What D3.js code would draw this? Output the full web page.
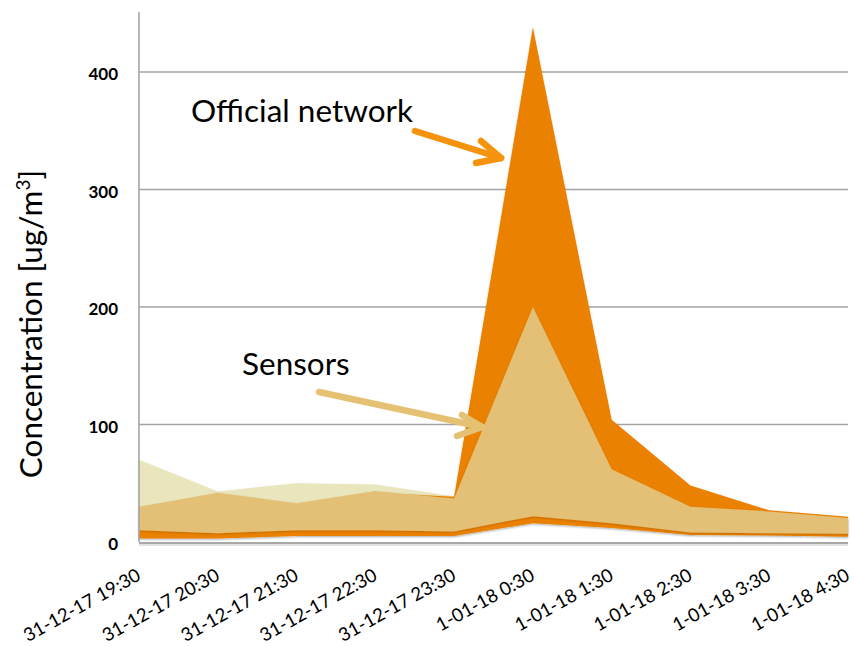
<!DOCTYPE html>
<html>
<head>
<meta charset="utf-8">
<script src="https://cdn.jsdelivr.net/npm/d3@7"></script>
<style>
  body { margin: 0; background: #fff; }
  svg { display: block; }
</style>
</head>
<body>
<div id="chart"></div>
<script>
// hourly timestamps on the category axis
const times = ['31-12-17 19:30', '31-12-17 20:30', '31-12-17 21:30', '31-12-17 22:30', '31-12-17 23:30',
    '1-01-18 0:30', '1-01-18 1:30', '1-01-18 2:30', '1-01-18 3:30', '1-01-18 4:30']

// sensors: upper envelope (pale), band (tan)
const sensorMax = [70, 43, 50, 49, 39, 180, 55, 27, 24, 19]
const sensorHigh = [30, 42, 33, 43.5, 37, 200, 62, 30, 26, 20.5]
const sensorLow = [10, 7.5, 10, 10, 9, 22, 16, 8, 7.5, 7]

// official network band (orange)
const officialHigh = [28, 40, 31, 42, 38.5, 438, 104, 48, 27, 21.5]
const officialLow = [3, 3, 5, 5, 5, 16, 12, 6, 5.5, 4.5]

const yTicks = [0, 100, 200, 300, 400]

const width = 854
const height = 647
const margin = {top: 12, right: 6, bottom: 105, left: 139}
const innerW = width - margin.left - margin.right
const innerH = height - margin.top - margin.bottom

const svg = d3.select('#chart')
    .append('svg')
    .attr('width', width)
    .attr('height', height)

const plot = svg.append('g')
    .attr('transform', `translate(${margin.left},${margin.top})`)

const x = d3.scalePoint()
    .domain(times)
    .range([0, innerW])

const y = d3.scaleLinear()
    .domain([0, 451])
    .range([innerH, 0])

// gridlines
plot.append('g')
    .attr('class', 'grid')
    .selectAll('line')
    .data(yTicks.filter(d => d > 0))
    .join('line')
    .attr('x1', 0)
    .attr('x2', innerW)
    .attr('y1', d => y(d))
    .attr('y2', d => y(d))
    .attr('stroke', '#a3a3a3')
    .attr('stroke-width', 1.5)

const rows = times.map((t, i) => ({
    t,
    sMax: sensorMax[i],
    sHigh: sensorHigh[i],
    sLow: sensorLow[i],
    oHigh: officialHigh[i],
    oLow: officialLow[i]
}))

const area = (lo, hi) => d3.area()
    .x(d => x(d.t))
    .y0(d => y(lo(d)))
    .y1(d => y(hi(d)))

// soft edge like the original
const defs = svg.append('defs')
const shadow = defs.append('filter')
    .attr('id', 'soft')
    .attr('x', '-5%').attr('y', '-5%')
    .attr('width', '110%').attr('height', '110%')
shadow.append('feDropShadow')
    .attr('dx', 0).attr('dy', 1)
    .attr('stdDeviation', 1)
    .attr('flood-color', '#000')
    .attr('flood-opacity', 0.18)

const layers = [
    {key: 'pale', fill: '#e9e6bd', path: area(d => d.oLow, d => d.sMax)},
    {key: 'official', fill: '#ea8103', path: area(d => d.oLow, d => d.oHigh)},
    {key: 'sensors', fill: '#e4c076', path: area(d => d.sLow, d => d.sHigh)}
]

plot.append('g')
    .attr('class', 'areas')
    .selectAll('path')
    .data(layers)
    .join('path')
    .attr('class', d => `area ${d.key}`)
    .attr('d', d => d.path(rows))
    .attr('fill', d => d.fill)
    .attr('filter', 'url(#soft)')

// axes lines
plot.append('line')
    .attr('x1', 0).attr('x2', 0)
    .attr('y1', 0).attr('y2', innerH)
    .attr('stroke', '#a0a0a0')
    .attr('stroke-width', 1.5)

plot.append('line')
    .attr('x1', 0).attr('x2', innerW)
    .attr('y1', innerH + 3).attr('y2', innerH + 3)
    .attr('stroke', '#e2e2e2')
    .attr('stroke-width', 2)
plot.append('line')
    .attr('x1', 0).attr('x2', innerW)
    .attr('y1', innerH + 1).attr('y2', innerH + 1)
    .attr('stroke', '#a8a8a8')
    .attr('stroke-width', 2)

// y axis labels
const yAxis = d3.axisLeft(y)
    .tickValues(yTicks)
    .tickSize(0)
    .tickPadding(21)

plot.append('g')
    .attr('class', 'y-axis')
    .call(yAxis)
    .call(g => g.select('.domain').remove())
    .selectAll('text')
    .attr('font-family', 'Lato, "Open Sans", sans-serif')
    .attr('font-weight', 'bold')
    .attr('font-size', 17)
    .attr('fill', '#000')
    .attr('dy', '0.45em')

// x axis labels, rotated
plot.append('g')
    .attr('class', 'x-axis')
    .selectAll('text')
    .data(times)
    .join('text')
    .attr('transform', d => `translate(${x(d) + 3},${innerH + 37}) rotate(-29)`)
    .attr('text-anchor', 'end')
    .attr('font-family', 'Lato, "Open Sans", sans-serif')
    .attr('font-size', 18.5)
    .attr('fill', '#000')
    .text(d => d)

// y title
const title = svg.append('text')
    .attr('transform', `translate(42,324) rotate(-90)`)
    .attr('text-anchor', 'middle')
    .attr('font-family', 'Lato, "Open Sans", sans-serif')
    .attr('font-size', 31.5)
    .attr('fill', '#000')
title.append('tspan').text('Concentration [ug/m')
title.append('tspan').text('3').attr('font-size', 19).attr('dy', -12)
title.append('tspan').text(']').attr('dy', 12)

// annotations
const notes = [
    {label: 'Official network', tx: 191, ty: 122, color: '#f5930c',
        shaft: [[415, 131], [501, 158]], head: [[[481, 141], [501, 158]], [[476, 163], [501, 158]]]},
    {label: 'Sensors', tx: 242, ty: 375, color: '#e5c173',
        shaft: [[319, 392], [482, 427]], head: [[[462, 415], [482, 427]], [[457, 436], [482, 427]]]}
]

const ann = svg.append('g').attr('class', 'annotations')

ann.selectAll('text')
    .data(notes)
    .join('text')
    .attr('x', d => d.tx)
    .attr('y', d => d.ty)
    .attr('font-family', 'Lato, "Open Sans", sans-serif')
    .attr('font-size', 31.5)
    .attr('fill', '#000')
    .text(d => d.label)

const line = d3.line()
notes.forEach(n => {
    [n.shaft, ...n.head].forEach(seg => {
        ann.append('path')
            .attr('d', line(seg))
            .attr('stroke', n.color)
            .attr('stroke-width', 6.5)
            .attr('stroke-linecap', 'round')
            .attr('fill', 'none')
    })
})
</script>
</body>
</html>
